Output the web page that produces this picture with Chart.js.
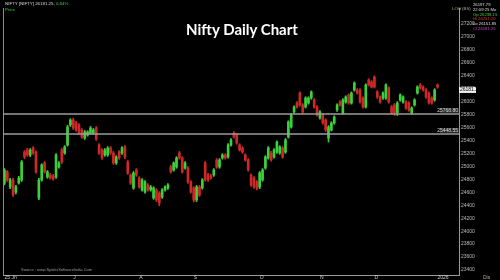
<!DOCTYPE html>
<html lang="en">
<head>
<meta charset="UTF-8">
<title>Nifty Daily Chart</title>
<script src="https://cdn.jsdelivr.net/npm/chart.js@4.4.0/dist/chart.umd.min.js"></script>
<style>
body{margin:0;background:#000}
#wrap{position:relative;width:500px;height:280px;overflow:hidden;background:#000}
#c{position:absolute;left:0;top:0}
.t{position:absolute;white-space:nowrap;font-family:'Liberation Sans',Arial,sans-serif;line-height:1}
#title{left:0;width:484px;top:22px;text-align:center;font-family:Lato,sans-serif;font-weight:700;font-size:15px;color:#fff}
#sym{left:5px;top:2px;font-size:4.4px;color:#ddd}
#sym b{font-weight:400;color:#3fd23f}
#price{left:5px;top:8px;font-size:4.4px;color:#3fd23f}
#log{left:452px;top:7px;font-size:4.4px;color:#b8b07a}
#bs{left:462px;top:7px;font-size:4.4px;color:#aaa}
#ohlc{left:473px;top:3px;font-size:4.2px;line-height:4.8px;color:#ddd}
#src{left:21px;top:268px;font-size:4px;color:#999}
#dis{left:483px;top:275px;font-size:5px;color:#b8b07a}
</style>
</head>
<body>
<div id="wrap">
  <canvas id="c" width="500" height="280"></canvas>
  <div class="t" id="title">Nifty Daily Chart</div>
  <div class="t" id="sym">NIFTY [NIFTY] 26181.25, <b>0.84%</b></div>
  <div class="t" id="price">Price</div>
  <div class="t" id="log">LOG</div>
  <div class="t" id="bs">(BS)</div>
  <div class="t" id="ohlc">26197.79<br>22:09:25 Mo<br><span style="color:#3fd23f">Op 26238.15</span><br><span style="color:#e03030">Hi 26251.20</span><br>Lo 26151.85<br><span style="color:#d040d0">Cl 26181.25</span></div>
  <div class="t" id="src">Source : www.SpiderSoftwareIndia.Com</div>
  <div class="t" id="dis">Dis</div>
</div>

<script>
/* ---------- data ---------- */
const opens = [24698,24868,24636,24744,24559,24698,24744,25177,25208,25130,25238,25177,24466,24744,25007,24790,24821,24805,24790,24945,
  25208,25161,25285,25594,25671,25625,25594,25517,25393,25439,25470,25470,25547,25285,25208,25130,25130,25238,25161,25007,
  25177,25161,25254,25022,24821,24621,24898,24775,24590,24559,24667,24590,24466,24590,24543,24482,24590,24621,24945,24898,
  24945,25161,25084,24929,24929,24713,24621,24435,24636,24621,25007,24821,24805,24821,25053,24945,25084,25130,25099,25285,
  25470,25439,25285,25238,25130,25053,24821,24775,24713,24636,24744,24929,25084,25161,25099,25177,25161,25238,25177,25408,
  25563,25795,25934,26088,25903,25872,25934,26011,25980,25872,25702,25748,25671,25393,25517,25625,25825,25949,25779,25949,
  26057,25934,26134,26134,26134,26011,25872,26289,26258,26335,26104,26026,26011,26011,26165,25872,25903,25779,25980,25949,
  25949,25934,25779,25903,26088,26212,26181,26134,26088,26011,25980,26212];
const highs = [24920,24890,24770,24770,24660,24800,25045,25200,25235,25230,25260,25195,24770,24995,25030,24890,24845,24830,25150,25030,
  25230,25275,25590,25690,25700,25650,25615,25540,25510,25505,25570,25540,25570,25305,25230,25230,25260,25260,25185,25120,
  25200,25260,25275,25045,24840,24875,24920,24795,24765,24735,24690,24660,24640,24610,24565,24610,24655,24690,24970,25025,
  25105,25185,25105,25030,24950,24735,24640,24660,24660,24765,25030,24845,24830,24920,25075,25075,25150,25150,25305,25385,
  25490,25460,25305,25260,25150,25075,24840,24795,24735,24875,24920,25120,25260,25185,25230,25350,25275,25260,25385,25660,
  25770,25890,25955,26105,25925,26030,26030,26120,26000,25895,25815,25770,25690,25585,25645,25735,25920,25970,26000,26045,
  26075,26105,26260,26155,26155,26030,26230,26310,26280,26355,26125,26045,26105,26230,26185,25895,25925,25955,26075,26045,
  25970,25955,25875,26000,26200,26235,26200,26155,26105,26030,26155,26230];
const lows = [24670,24720,24610,24490,24530,24680,24720,25075,25110,25105,25140,24850,24440,24725,24850,24770,24755,24740,24770,24925,
  25000,25140,25265,25570,25525,25495,25450,25385,25370,25420,25450,25450,25355,25140,25060,25110,25110,25140,24985,24985,
  25060,25140,25075,24830,24675,24600,24800,24615,24570,24540,24570,24570,24445,24410,24345,24460,24570,24600,24850,24880,
  24925,25065,24850,24910,24690,24540,24405,24410,24490,24600,24725,24720,24755,24800,24925,24925,25065,25065,25080,25265,
  25390,25295,25190,25155,25035,24880,24645,24615,24590,24610,24725,24910,25065,25035,25080,25155,25140,25080,25155,25390,
  25545,25775,25855,25885,25775,25855,25915,25990,25855,25730,25685,25605,25495,25330,25500,25605,25805,25885,25760,25930,
  25915,25915,26115,26070,25930,25855,25855,26195,26165,26165,26005,25930,25990,25990,25930,25760,25740,25740,25960,25930,
  25835,25805,25760,25885,26070,26145,26115,26005,25915,25915,25960,26160];
const closes = [24898,24744,24744,24512,24636,24775,25022,25099,25130,25208,25161,24868,24744,24976,24868,24868,24775,24760,25130,25007,
  25022,25254,25563,25671,25547,25517,25470,25408,25486,25486,25547,25517,25377,25161,25084,25208,25238,25161,25007,25099,
  25084,25238,25099,24852,24698,24852,24821,24636,24744,24713,24590,24636,24621,24435,24389,24590,24636,24667,24868,25007,
  25084,25084,24868,25007,24713,24559,24435,24636,24512,24744,24744,24744,24775,24898,24945,25053,25130,25084,25285,25362,
  25408,25316,25208,25177,25053,24898,24667,24636,24621,24852,24898,25099,25238,25053,25208,25331,25254,25099,25362,25640,
  25748,25872,25872,25903,25795,26011,26011,26104,25872,25748,25795,25625,25517,25563,25625,25717,25903,25903,25980,26026,
  25934,26088,26243,26088,25949,25872,26212,26212,26181,26181,26026,25949,26088,26212,25949,25779,25779,25934,26057,26026,
  25856,25825,25856,25980,26181,26165,26134,26026,25934,25934,26134,26181.25];

const slotCount = 159;   // trading-day slots across the plot (last few empty)
const monthTicks = {0:'25 Jn',24:'J',47:'A',66:'S',89:'O',110:'N',129:'D',151:'2026'};
const yTicks = [23400,23600,23800,24000,24200,24400,24600,24800,25000,25200,25400,25600,25800,26000,26200,26400,26600,26800,27000,27200];
const yMin = 23276, yMax = 27401;
const levels = [25768.80, 25448.55];

/* ---------- build ---------- */
const UP = '#3cd03c', DOWN = '#d02828';
const slotLabels = Array.from({length:slotCount}, (_,i)=>monthTicks[i]||'');
const colors = opens.map((o,i)=>closes[i]>=o?UP:DOWN);
const wickData = lows.map((l,i)=>[l,highs[i]]);
const bodyData = opens.map((o,i)=>[o,closes[i]]);

const overlay = {
  id:'overlay',
  afterDraw(chart){
    const {ctx, chartArea:a, scales:{y}} = chart;
    ctx.save();
    // left frame line
    ctx.strokeStyle='#8a8a8a';ctx.lineWidth=1;
    ctx.beginPath();ctx.moveTo(a.left+0.5,a.top);ctx.lineTo(a.left+0.5,a.bottom);ctx.stroke();
    // level lines + labels
    ctx.font='5px "Liberation Sans", Arial';ctx.textBaseline='bottom';ctx.textAlign='right';
    levels.forEach(v=>{
      const py=Math.round(y.getPixelForValue(v));
      ctx.strokeStyle='#9c9c9c';ctx.lineWidth=1.5;
      ctx.beginPath();ctx.moveTo(a.left,py);ctx.lineTo(a.right,py);ctx.stroke();
      ctx.fillStyle='#2a2a2a';ctx.fillRect(a.right-19,py-6,19,5);
      ctx.fillStyle='#ddd';ctx.fillText(v.toFixed(2),a.right-1,py-0.5);
    });
    // last price box
    const last=closes[closes.length-1];
    const pp=y.getPixelForValue(last);
    ctx.fillStyle='#eee';ctx.fillRect(a.right,pp,17,6);
    ctx.fillStyle='#000';ctx.textAlign='left';ctx.textBaseline='middle';
    ctx.fillText(last.toFixed(2),a.right+1,pp+3);
    ctx.restore();
  }
};

new Chart(document.getElementById('c'),{
  type:'bar',
  data:{labels:slotLabels,datasets:[
    {label:'wick',data:wickData,backgroundColor:colors,barThickness:1,grouped:false,order:2},
    {label:'body',data:bodyData,backgroundColor:colors,barThickness:2,grouped:false,order:1}
  ]},
  options:{
    responsive:false,animation:false,
    layout:{padding:{top:8,left:3,right:0,bottom:0}},
    plugins:{legend:{display:false},tooltip:{enabled:false}},
    scales:{
      x:{grid:{display:false,drawTicks:false},border:{color:'#9a9a9a'},
         ticks:{autoSkip:false,maxRotation:0,minRotation:0,align:'start',padding:0,color:'#ccc',
                font:{size:5,family:'"Liberation Sans", Arial'}},
         afterFit(s){s.height=5;}},
      y:{position:'right',min:yMin,max:yMax,grid:{display:false,drawTicks:false},border:{color:'#9a9a9a'},
         ticks:{color:'#bbb',padding:2,labelOffset:3,font:{size:5,family:'"Liberation Sans", Arial'},callback:v=>v},
         afterBuildTicks(s){s.ticks=yTicks.map(v=>({value:v}));},
         afterFit(s){s.width=41;}}
    }
  },
  plugins:[overlay]
});
</script>
</body>
</html>
